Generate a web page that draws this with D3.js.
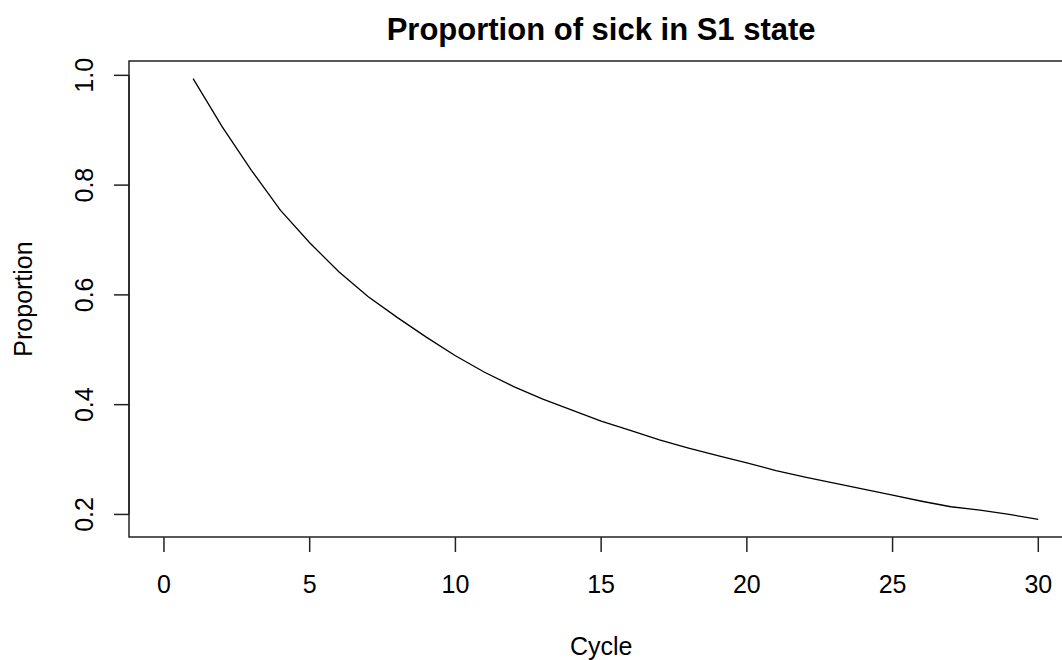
<!DOCTYPE html>
<html lang="en">
<head>
<meta charset="utf-8">
<title>Proportion of sick in S1 state</title>
<script src="https://d3js.org/d3.v7.min.js"></script>
<style>
  body { margin: 0; background: #fff; }
  svg { display: block; background: #fff; }
  text { font-family: "Liberation Sans", Arial, sans-serif; fill: #000; }
  .tick-label { font-size: 25px; }
  .axis-title { font-size: 25px; }
  .main-title { font-size: 31px; font-weight: bold; }
</style>
</head>
<body>
<div id="chart"></div>
<script>
// data
const cycles = d3.range(1, 31);
const proportion = [0.994, 0.906, 0.827, 0.754, 0.695, 0.642, 0.597, 0.559, 0.523, 0.489,
                    0.459, 0.433, 0.410, 0.390, 0.370, 0.353, 0.336, 0.321, 0.307, 0.294,
                    0.280, 0.268, 0.257, 0.246, 0.235, 0.224, 0.214, 0.208, 0.200, 0.191];
const xTicks = [0, 5, 10, 15, 20, 25, 30];
const yTicks = [0.2, 0.4, 0.6, 0.8, 1.0];
const xLim = [0, 30];

const w = 1062, h = 660;
const plotLeft = 129, plotTop = 61, plotBottom = 537;
const unit = 29.144; // px per cycle

const svg = d3.select("#chart").append("svg")
  .attr("width", w).attr("height", h);

// R style 4% extension of the ranges
const xd = xLim[1] - xLim[0];
const x = d3.scaleLinear()
  .domain([xLim[0] - 0.04 * xd, xLim[1] + 0.04 * xd])
  .range([plotLeft, plotLeft + unit * xd * 1.08]);

const ext = d3.extent(proportion);
const yd = ext[1] - ext[0];
const y = d3.scaleLinear()
  .domain([ext[0] - 0.04 * yd, ext[1] + 0.04 * yd])
  .range([plotBottom, plotTop]);

// plot box
svg.append("rect")
  .attr("x", x.range()[0]).attr("y", plotTop)
  .attr("width", x.range()[1] - x.range()[0]).attr("height", plotBottom - plotTop)
  .attr("fill", "none").attr("stroke", "#222").attr("stroke-width", 1.5);

// x axis
const xAxis = svg.append("g").attr("transform", `translate(0,${plotBottom})`);
xAxis.selectAll("line.tk").data(xTicks).enter().append("line")
  .attr("x1", d => x(d)).attr("x2", d => x(d))
  .attr("y1", 0).attr("y2", 15)
  .attr("stroke", "#222").attr("stroke-width", 1.5);
xAxis.selectAll("text").data(xTicks).enter().append("text")
  .attr("class", "tick-label")
  .attr("x", d => x(d)).attr("y", 56)
  .attr("text-anchor", "middle")
  .text(d => d);

// y axis
const yAxis = svg.append("g").attr("transform", `translate(${plotLeft},0)`);
yAxis.append("line")
  .attr("x1", 0).attr("x2", 0)
  .attr("y1", y(yTicks[0])).attr("y2", y(yTicks[yTicks.length - 1]))
  .attr("stroke", "#222").attr("stroke-width", 1.5);
yAxis.selectAll("line.tk").data(yTicks).enter().append("line")
  .attr("x1", 0).attr("x2", -15)
  .attr("y1", d => y(d)).attr("y2", d => y(d))
  .attr("stroke", "#222").attr("stroke-width", 1.5);
yAxis.selectAll("text").data(yTicks).enter().append("text")
  .attr("class", "tick-label")
  .attr("transform", d => `translate(-36,${y(d)}) rotate(-90)`)
  .attr("text-anchor", "middle")
  .text(d => d3.format(".1f")(d));

// curve
const line = d3.line()
  .x((d, i) => x(cycles[i]))
  .y(d => y(d));
svg.append("path")
  .datum(proportion)
  .attr("d", line)
  .attr("fill", "none")
  .attr("stroke", "#000")
  .attr("stroke-width", 1.3);

// titles
const midX = (x.range()[0] + x.range()[1]) / 2;
svg.append("text")
  .attr("class", "main-title")
  .attr("x", midX).attr("y", 40)
  .attr("text-anchor", "middle")
  .text("Proportion of sick in S1 state");

svg.append("text")
  .attr("class", "axis-title")
  .attr("x", midX).attr("y", 655)
  .attr("text-anchor", "middle")
  .text("Cycle");

svg.append("text")
  .attr("class", "axis-title")
  .attr("transform", `translate(32,${(plotTop + plotBottom) / 2}) rotate(-90)`)
  .attr("text-anchor", "middle")
  .text("Proportion");
</script>
</body>
</html>
